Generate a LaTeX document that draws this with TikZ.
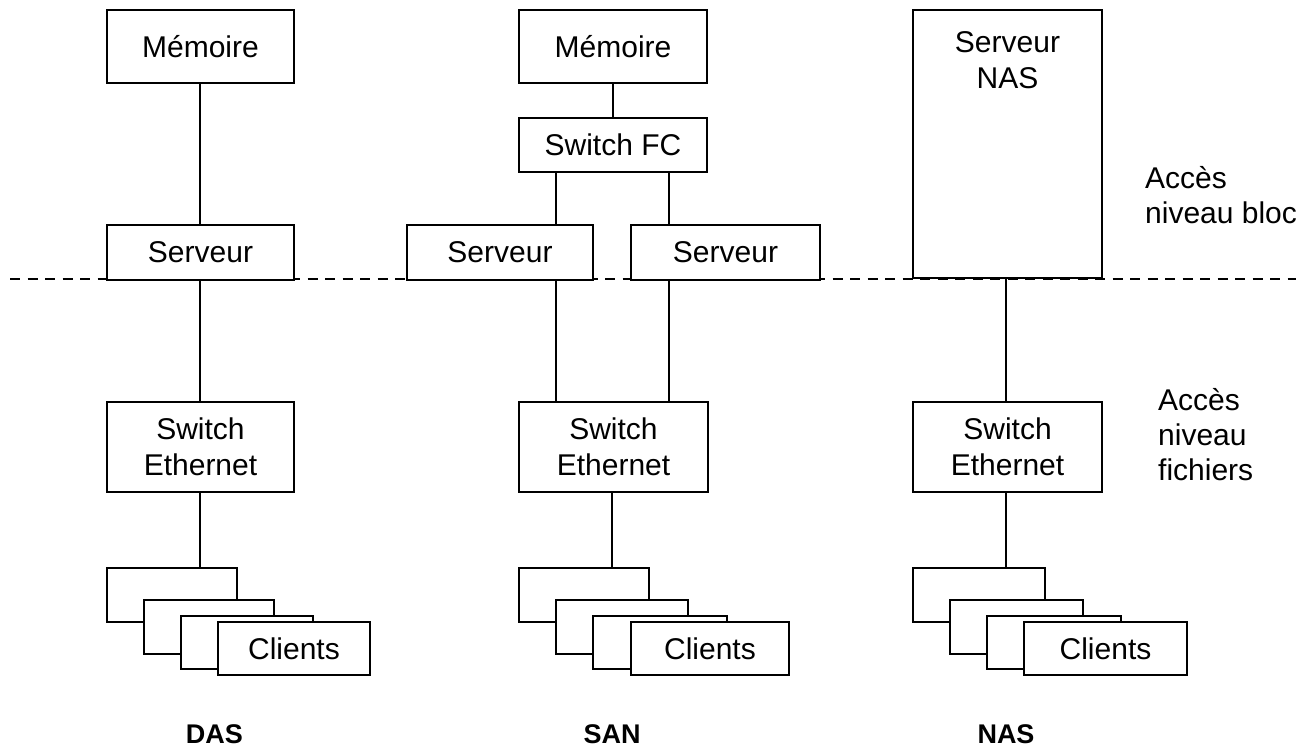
\documentclass[tikz,border=0pt]{standalone}
\usepackage{fontspec}
\setmainfont{Liberation Sans}
\begin{document}
\begin{tikzpicture}[x=1pt,y=-1pt,
  box/.style={draw,line width=1.6pt,fill=white,rectangle,inner sep=0pt,align=center,
    font=\fontsize{30}{36}\selectfont},
  wire/.style={line width=1.6pt},
  sep/.style={line width=1.6pt,dash pattern=on 10pt off 7.5pt},
  lbl/.style={inner sep=0pt,align=left,anchor=west,font=\fontsize{30}{35}\selectfont},
  title/.style={inner sep=0pt,font=\fontsize{27}{32}\selectfont\bfseries}]
\useasboundingbox (0,0) rectangle (1296,748);
\fill[white] (0,0) rectangle (1296,748);
% separator
\coordinate (sepL) at (10,279);
\coordinate (sepR) at (1296,279);
\draw[sep] (sepL) -- (sepR);
% ---------- DAS ----------
\node[box,minimum width=187,minimum height=73] (memA) at (200.5,46.5) {Mémoire};
\node[box,minimum width=187,minimum height=55] (srvA) at (200.5,252.5) {Serveur};
\node[box,minimum width=187,minimum height=90] (swA) at (200.5,447) {Switch\\Ethernet};
\node[box,minimum width=130,minimum height=54] (cA1) at (172,595) {};
\node[box,minimum width=130,minimum height=54] (cA2) at (209,627) {};
\node[box,minimum width=132,minimum height=53] (cA3) at (247,642.5) {};
\node[box,minimum width=152,minimum height=53] (cA4) at (294,648.5) {Clients};
\draw[wire] ([xshift=-0.5pt]memA.south) -- ([xshift=-0.5pt]srvA.north);
\draw[wire] ([xshift=-0.5pt]srvA.south) -- ([xshift=-0.5pt]swA.north);
\draw[wire] ([xshift=-0.5pt]swA.south) -- ([xshift=-0.5pt]swA.south |- cA1.north);
% ---------- SAN ----------
\node[box,minimum width=188,minimum height=73] (memB) at (613,46.5) {Mémoire};
\node[box,minimum width=188,minimum height=54] (fc) at (613,145) {Switch FC};
\node[box,minimum width=186,minimum height=55] (srvB1) at (500,252.5) {Serveur};
\node[box,minimum width=189,minimum height=55] (srvB2) at (725.5,252.5) {Serveur};
\node[box,minimum width=189,minimum height=90] (swB) at (613.5,447) {Switch\\Ethernet};
\node[box,minimum width=130,minimum height=54] (cB1) at (584,595) {};
\node[box,minimum width=132,minimum height=54] (cB2) at (622,627) {};
\node[box,minimum width=134,minimum height=53] (cB3) at (660,642.5) {};
\node[box,minimum width=158,minimum height=53] (cB4) at (710,648.5) {Clients};
\draw[wire] (memB.south) -- (fc.north);
\draw[wire] ([xshift=-57pt]fc.south) -- ([xshift=-57pt]fc.south |- srvB1.north);
\draw[wire] ([xshift=56pt]fc.south) -- ([xshift=56pt]fc.south |- srvB2.north);
\draw[wire] ([xshift=56pt]srvB1.south) -- ([xshift=56pt]srvB1.south |- swB.north);
\draw[wire] ([xshift=-56.5pt]srvB2.south) -- ([xshift=-56.5pt]srvB2.south |- swB.north);
\draw[wire] ([xshift=-1.5pt]swB.south) -- ([xshift=-1.5pt]swB.south |- cB1.north);
% ---------- NAS ----------
\node[box,minimum width=189,minimum height=268] (nas) at (1007.5,144) {};
\node[inner sep=0pt,align=center,anchor=north,font=\fontsize{30}{36}\selectfont] (nastxt)
  at ([yshift=-22pt]nas.north) {Serveur\\NAS};
\node[box,minimum width=189,minimum height=90] (swC) at (1007.5,447) {Switch\\Ethernet};
\node[box,minimum width=132,minimum height=54] (cC1) at (979,595) {};
\node[box,minimum width=133,minimum height=54] (cC2) at (1016.5,627) {};
\node[box,minimum width=134,minimum height=53] (cC3) at (1054,642.5) {};
\node[box,minimum width=163,minimum height=53] (cC4) at (1105.5,648.5) {Clients};
\draw[wire] ([xshift=-1.5pt]nas.south) -- ([xshift=-1.5pt]nas.south |- swC.north);
\draw[wire] ([xshift=-1.5pt]swC.south) -- ([xshift=-1.5pt]swC.south |- cC1.north);
% ---------- side labels ----------
\node[lbl] (bloc) at (1145,195) {Accès\\niveau bloc};
\node[lbl] (fich) at (1158,435) {Accès\\niveau\\fichiers};
% ---------- titles ----------
\node[title] (tDAS) at (214.5,734) {DAS};
\node[title] (tSAN) at (612,734) {SAN};
\node[title] (tNAS) at (1006,734) {NAS};
\end{tikzpicture}
\end{document}
